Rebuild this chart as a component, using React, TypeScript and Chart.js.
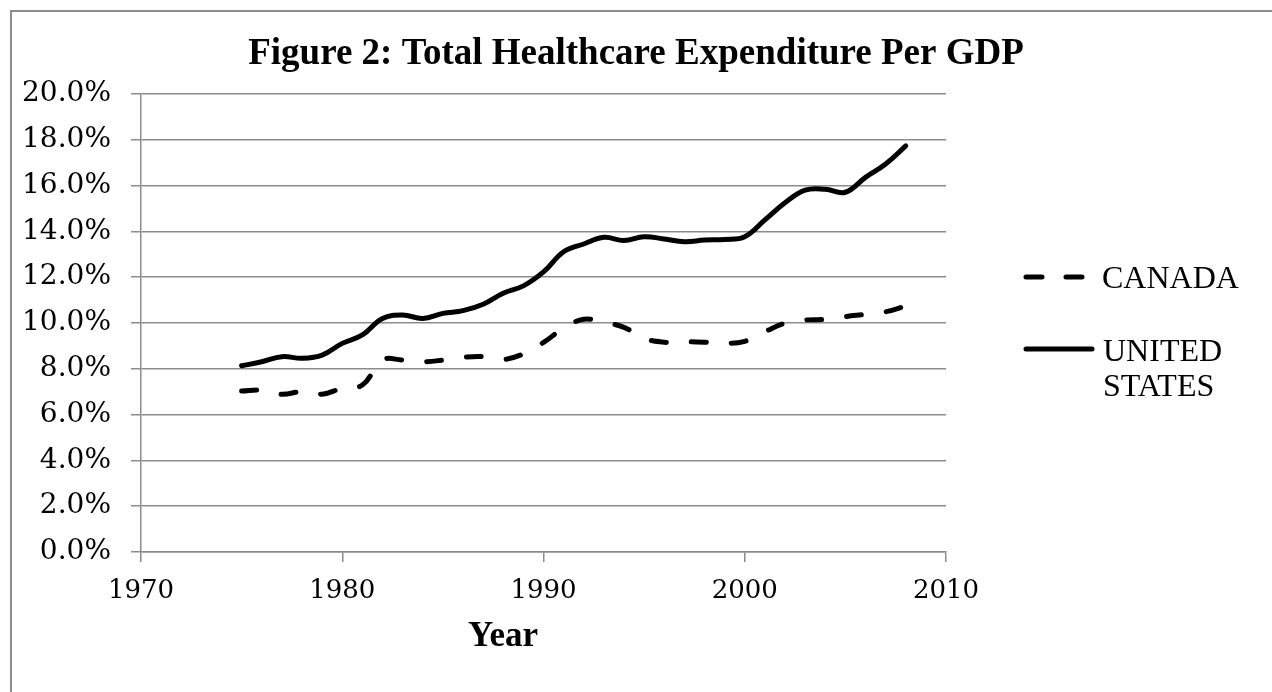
import React, { useEffect, useRef } from 'react';
import { Chart, registerables } from 'chart.js';

Chart.register(...registerables);

// ---- Data ----
const years = [
  1975, 1976, 1977, 1978, 1979, 1980, 1981, 1982, 1983, 1984, 1985, 1986,
  1987, 1988, 1989, 1990, 1991, 1992, 1993, 1994, 1995, 1996, 1997, 1998,
  1999, 2000, 2001, 2002, 2003, 2004, 2005, 2006, 2007, 2008,
];

// Total healthcare expenditure, % of GDP
const canadaValues = [
  7.03, 7.07, 6.89, 7.0, 6.89, 7.15, 7.29, 8.38, 8.38, 8.31, 8.38, 8.5,
  8.53, 8.41, 8.65, 9.15, 9.77, 10.16, 10.03, 9.81, 9.33, 9.16, 9.18, 9.16,
  9.11, 9.2, 9.62, 9.99, 10.13, 10.16, 10.28, 10.38, 10.49, 10.74,
];

const usValues = [
  8.13, 8.31, 8.53, 8.46, 8.6, 9.11, 9.48, 10.2, 10.35, 10.2, 10.42, 10.54,
  10.82, 11.3, 11.62, 12.23, 13.11, 13.45, 13.74, 13.6, 13.77, 13.67, 13.55, 13.62,
  13.65, 13.77, 14.5, 15.25, 15.8, 15.84, 15.71, 16.36, 16.94, 17.73,
];

const seriesNames = ['CANADA', 'UNITED STATES'];
const legendLines = [['CANADA'], ['UNITED', 'STATES']];

const chartTitle = 'Figure 2: Total Healthcare Expenditure Per GDP';
const xAxisTitle = 'Year';

const xMin = 1970;
const xMax = 2010;
const xStep = 10;
const yMin = 0;
const yMax = 20;
const yStep = 2;

const GRID = '#8c8c8c';
const BORDER = '#8c8c8c';

const decorPlugin = {
  id: 'decor',
  beforeDraw(chart: any) {
    const ctx = chart.ctx as CanvasRenderingContext2D;
    ctx.save();
    ctx.fillStyle = '#ffffff';
    ctx.fillRect(0, 0, chart.width, chart.height);
    ctx.strokeStyle = BORDER;
    ctx.lineWidth = 2;
    ctx.beginPath();
    ctx.moveTo(11, chart.height);
    ctx.lineTo(11, 11);
    ctx.lineTo(chart.width, 11);
    ctx.stroke();
    ctx.restore();
  },
  afterDraw(chart: any) {
    const ctx = chart.ctx as CanvasRenderingContext2D;
    ctx.save();
    // Title
    ctx.fillStyle = '#000';
    ctx.font = 'bold 37px "Liberation Serif"';
    ctx.textAlign = 'center';
    ctx.textBaseline = 'alphabetic';
    ctx.fillText(chartTitle, 636, 64);

    // X axis title
    ctx.font = 'bold 35px "Liberation Serif"';
    ctx.fillText(xAxisTitle, 503, 646);

    // Legend
    const rows = [
      { lineY: 277, x0: 1026, x1: 1090, textX: 1102, baselines: [288] },
      { lineY: 349, x0: 1026, x1: 1092, textX: 1103, baselines: [361, 396] },
    ];
    chart.data.datasets.forEach((ds: any, i: number) => {
      const r = rows[i];
      ctx.strokeStyle = ds.borderColor;
      ctx.lineWidth = ds.borderWidth;
      ctx.lineCap = 'round';
      ctx.setLineDash(i === 0 ? [16, 24] : []);
      ctx.beginPath();
      ctx.moveTo(r.x0, r.lineY);
      ctx.lineTo(r.x1, r.lineY);
      ctx.stroke();
      ctx.setLineDash([]);
      ctx.fillStyle = '#000';
      ctx.font = '32px "Liberation Serif"';
      ctx.textAlign = 'left';
      legendLines[i].forEach((t, k) => ctx.fillText(t, r.textX, r.baselines[k]));
    });
    ctx.restore();
  },
};

export default function App() {
  const canvasRef = useRef<HTMLCanvasElement | null>(null);

  useEffect(() => {
    if (!canvasRef.current) return;
    const toPoints = (vals: number[]) => years.map((y, i) => ({ x: y, y: vals[i] }));
    const chart = new Chart(canvasRef.current, {
      type: 'line',
      data: {
        datasets: [
          {
            label: seriesNames[0],
            data: toPoints(canadaValues),
            borderColor: '#000000',
            borderWidth: 5,
            borderDash: [15, 25],
            borderCapStyle: 'round',
            pointRadius: 0,
            tension: 0.4,
            fill: false,
          },
          {
            label: seriesNames[1],
            data: toPoints(usValues),
            borderColor: '#000000',
            borderWidth: 5,
            borderCapStyle: 'round',
            borderJoinStyle: 'round',
            pointRadius: 0,
            tension: 0.4,
            fill: false,
          },
        ],
      },
      options: {
        responsive: false,
        animation: false,
        devicePixelRatio: 1,
        layout: { padding: { left: 0, top: 94, right: 326, bottom: 0 } },
        plugins: {
          legend: { display: false },
          title: { display: false },
          tooltip: { enabled: false },
        },
        scales: {
          x: {
            type: 'linear',
            min: xMin,
            max: xMax,
            ticks: {
              stepSize: xStep,
              color: '#000',
              font: { family: 'DejaVu Serif', size: 26 },
              padding: 14,
              maxRotation: 0,
              callback: (v: any) => String(v),
            },
            grid: {
              drawOnChartArea: false,
              drawTicks: true,
              tickLength: 10,
              color: GRID,
              lineWidth: 1.5,
            },
            border: { color: GRID, width: 1.5 },
            title: { display: false },
            afterFit: (s: any) => {
              s.height = 140;
            },
          },
          y: {
            min: yMin,
            max: yMax,
            ticks: {
              stepSize: yStep,
              color: '#000',
              font: { family: 'DejaVu Serif', size: 28 },
              padding: 20,
              callback: (v: any) => Number(v).toFixed(1) + '%',
            },
            grid: {
              color: GRID,
              lineWidth: 1.5,
              tickLength: 10,
            },
            border: { color: GRID, width: 1.5 },
            afterFit: (s: any) => {
              s.width = 141;
            },
          },
        },
      } as any,
      plugins: [decorPlugin],
    });
    return () => chart.destroy();
  }, []);

  return (
    <div style={{ position: 'fixed', left: 0, top: 0, width: 1272, height: 692, background: '#fff' }}>
      <canvas ref={canvasRef} width={1272} height={692} style={{ display: 'block' }} />
    </div>
  );
}
